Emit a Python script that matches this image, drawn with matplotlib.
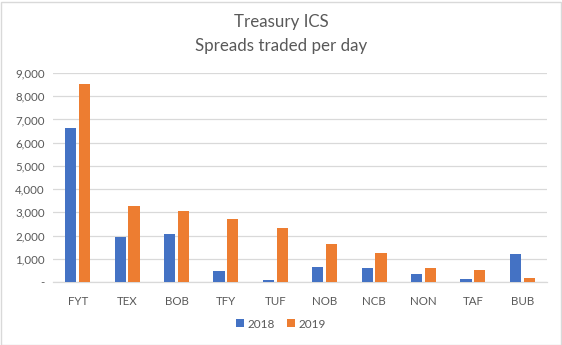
import matplotlib
matplotlib.use("Agg")
import matplotlib.pyplot as plt
import numpy as np
from matplotlib.patches import Rectangle

categories = ["FYT", "TEX", "BOB", "TFY", "TUF", "NOB", "NCB", "NON", "TAF", "BUB"]
values_2018 = [6640, 1940, 2070, 480, 90, 650, 600, 350, 130, 1210]
values_2019 = [8530, 3280, 3060, 2720, 2330, 1640, 1250, 600, 520, 170]
yticks = [0, 1000, 2000, 3000, 4000, 5000, 6000, 7000, 8000, 9000]
ytick_labels = ["-", "1,000", "2,000", "3,000", "4,000", "5,000", "6,000", "7,000", "8,000", "9,000"]

plt.rcParams['font.family'] = ['Lato', 'DejaVu Sans']
txt = "#595959"
fig = plt.figure(figsize=(5.62, 3.45), dpi=100)
ax = fig.add_axes([53/562, 1-282/345, 494/562, (282-73)/345])

x = np.arange(len(categories))
w = 0.225
ax.bar(x - 0.14, values_2018, w, color="#4472C4", label="2018", zorder=3)
ax.bar(x + 0.14, values_2019, w, color="#ED7D31", label="2019", zorder=3)

ax.set_xlim(-0.5, len(categories) - 0.5)
ax.set_ylim(0, 9000)
ax.set_yticks(yticks)
ax.set_yticklabels(ytick_labels)
ax.set_xticks(x)
ax.set_xticklabels(categories)
ax.tick_params(axis='both', length=0, labelsize=8.3, colors=txt)
ax.tick_params(axis='y', pad=6)
ax.tick_params(axis='x', pad=10)
ax.grid(axis='y', color="#D9D9D9", linewidth=0.9, zorder=0)
for s in ["top", "right", "left"]:
    ax.spines[s].set_visible(False)
ax.spines["bottom"].set_color("#D9D9D9")
ax.spines["bottom"].set_linewidth(0.9)

fig.text(0.5, 1-22/345, "Treasury ICS", ha="center", va="center", fontsize=12.2, color=txt)
fig.text(0.5, 1-46/345, "Spreads traded per day", ha="center", va="center", fontsize=12.2, color=txt)

leg = fig.legend(loc="center", bbox_to_anchor=(0.5, 1-324/345), ncol=2, frameon=False,
                 fontsize=8.5, handlelength=0.65, handleheight=0.65, handletextpad=0.35,
                 columnspacing=1.0, labelcolor=txt)

fig.patches.append(Rectangle((0.5/562, 0.5/345), 1-2/562, 1-2/345, transform=fig.transFigure,
                             fill=False, edgecolor="#D9D9D9", linewidth=1))
fig.savefig("out.png", dpi=100)
